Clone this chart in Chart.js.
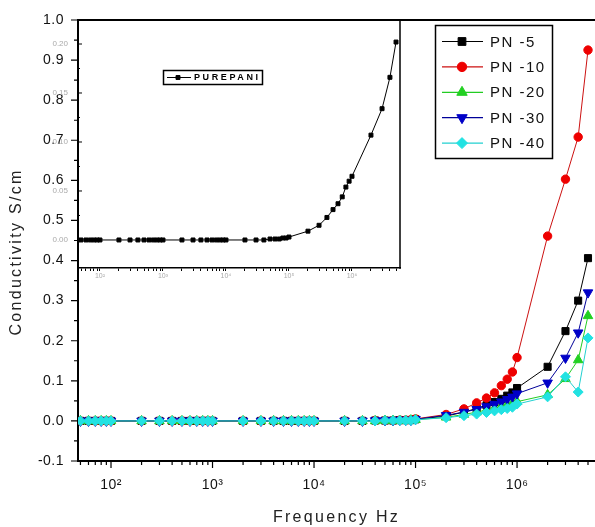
<!DOCTYPE html>
<html><head><meta charset="utf-8">
<script src="https://cdn.jsdelivr.net/npm/chart.js@4.4.1/dist/chart.umd.min.js"></script>
<style>
html,body{margin:0;padding:0;background:#fff;}
#wrap{position:relative;width:595px;height:527px;overflow:hidden;background:#fff;}
#main{position:absolute;left:0;top:0;}
#inset{position:absolute;left:0;top:0;}
</style></head><body>
<div id="wrap"><canvas id="main" width="595" height="527"></canvas><canvas id="inset" width="420" height="290"></canvas></div>
<script>
// ---------- data ----------
const frequencyHz = [50,60,70,80,90,100,
  200,300,400,500,600,700,800,900,1000,
  2000,3000,4000,5000,6000,7000,8000,9000,10000,
  20000,30000,40000,50000,60000,70000,80000,90000,100000,
  200000,300000,400000,500000,600000,700000,800000,900000,1000000,
  2000000,3000000,4000000,5000000];
const pn5 = [0,0,0,0,0,0, 0,0,0,0,0,0,0,0,0, 0,0,0,0,0,0,0,0,0,
  0,0,0.001,0.001,0.001,0.002,0.002,0.002,0.004,
  0.012,0.022,0.031,0.039,0.047,0.055,0.063,0.071,0.082,
  0.135,0.224,0.300,0.406];
const pn10 = [0,0,0,0,0,0, 0,0,0,0,0,0,0,0,0, 0,0,0,0,0,0,0,0,0,
  0,0,0.001,0.001,0.001,0.002,0.002,0.003,0.005,
  0.016,0.030,0.045,0.057,0.070,0.088,0.104,0.122,0.158,
  0.461,0.603,0.708,0.925];
const pn20 = [0,0,0,0,0,0, 0,0,0,0,0,0,0,0,0, 0,0,0,0,0,0,0,0,0,
  0,0,0,0.001,0.001,0.001,0.001,0.002,0.003,
  0.009,0.016,0.022,0.027,0.032,0.036,0.040,0.044,0.048,
  0.065,0.105,0.152,0.262];
const pn30 = [0,0,0,0,0,0, 0,0,0,0,0,0,0,0,0, 0,0,0,0,0,0,0,0,0,
  0,0,0.001,0.001,0.001,0.002,0.002,0.002,0.004,
  0.014,0.022,0.029,0.036,0.042,0.048,0.054,0.060,0.068,
  0.095,0.157,0.220,0.320];
const pn40 = [0,0,0,0,0,0, 0,0,0,0,0,0,0,0,0, 0,0,0,0,0,0,0,0,0,
  0,0,0,0.001,0.001,0.001,0.001,0.001,0.003,
  0.008,0.013,0.017,0.021,0.025,0.028,0.031,0.034,0.042,
  0.060,0.110,0.072,0.207];
const purePani = [0,0,0,0,0,0, 0,0,0,0,0,0,0,0,0, 0,0,0,0,0,0,0,0,0,
  0,0,0,0.001,0.001,0.001,0.002,0.002,0.003,
  0.009,0.015,0.023,0.031,0.037,0.044,0.054,0.060,0.065,
  0.107,0.134,0.166,0.202];
const seriesNames = ['PN -5','PN -10','PN -20','PN -30','PN -40'];
const insetName = 'PUREPANI';
const xMajorTicks = [100,1000,10000,100000,1000000];
const xTickLabels = ['10\u00B2','10\u00B3','10\u2074','10\u2075','10\u2076'];
const xTitle = 'Frequency Hz';
const yTitle = 'Conductivity S/cm';

// ---------- styles ----------
const FONT = '"Liberation Sans", Arial, sans-serif';
const seriesStyles = [
  {color:'#000000', line:'#000000', pointStyle:'rect', radius:5, rotation:0},
  {color:'#ee0000', line:'#cc1111', pointStyle:'circle', radius:4.2, rotation:0},
  {color:'#22d022', line:'#22cc22', pointStyle:'triangle', radius:5.5, rotation:0},
  {color:'#0000c8', line:'#000099', pointStyle:'triangle', radius:5.5, rotation:180},
  {color:'#22e2e2', line:'#22d0d0', pointStyle:'rectRot', radius:5, rotation:0}
];
const allSeries = [pn5, pn10, pn20, pn30, pn40];

function isPow10(v){const e=Math.log10(v);return Math.abs(e-Math.round(e))<1e-9;}
function logTickValues(min,max){const out=[];for(let e=1;e<=6;e++){for(let m=1;m<=9;m++){const v=m*Math.pow(10,e);if(v>=min&&v<=max)out.push(v);}}return out;}
function xLabel(v){const i=xMajorTicks.findIndex(t=>Math.abs(t-v)<1e-6*t);return i>=0?xTickLabels[i]:'';}
function toPoints(vals){return frequencyHz.map((f,i)=>({x:f,y:vals[i]}));}

// ---------- main chart ----------
const mainPlugin = {
  id:'mainDeco',
  beforeDraw(chart){ chart.ctx.letterSpacing='0.5px'; },
  afterDraw(chart){
    const ctx=chart.ctx, a=chart.chartArea, xs=chart.scales.x, ys=chart.scales.y;
    ctx.save();
    ctx.letterSpacing='0px';
    ctx.strokeStyle='#000';
    ctx.lineWidth=2;
    ctx.beginPath();ctx.moveTo(a.left-1,a.top);ctx.lineTo(chart.width,a.top);ctx.stroke();
    ctx.lineWidth=1.2;
    ctx.beginPath();
    xs.ticks.forEach(t=>{const p=xs.getPixelForValue(t.value);if(p<a.left+1)return;const L=isPow10(t.value)?7:4;ctx.moveTo(p,a.bottom);ctx.lineTo(p,a.bottom+L);});
    ys.ticks.forEach(t=>{const p=ys.getPixelForValue(t.value);const r=Math.round(t.value*20);const L=(r%2===0)?7:4;ctx.moveTo(a.left-L,p);ctx.lineTo(a.left,p);});
    ctx.stroke();
    ctx.fillStyle='#222';
    ctx.font='16px '+FONT;
    ctx.letterSpacing='2.3px';
    ctx.textAlign='center';ctx.textBaseline='middle';
    ctx.fillText(xTitle,(a.left+a.right)/2,518);
    ctx.translate(17,252);ctx.rotate(-Math.PI/2);
    ctx.fillText(yTitle,0,0);
    ctx.restore();
    ctx.save();
    ctx.lineWidth=1.5;ctx.strokeStyle='#000';
    ctx.strokeRect(435.5,25.5,117,133);
    chart.data.datasets.forEach((ds,i)=>{
      const st=seriesStyles[i];
      const y=41.5+i*25.4;
      ctx.strokeStyle=st.line;ctx.lineWidth=1.2;
      ctx.beginPath();ctx.moveTo(442,y);ctx.lineTo(483,y);ctx.stroke();
      ctx.fillStyle=st.color;ctx.strokeStyle=st.color;ctx.lineWidth=1;
      Chart.helpers.drawPoint(ctx,{pointStyle:st.pointStyle,rotation:st.rotation,radius:st.radius+0.5,borderWidth:1},462,y);
      ctx.fillStyle='#111';ctx.font='15px '+FONT;ctx.letterSpacing='1.5px';
      ctx.textAlign='left';ctx.textBaseline='middle';
      ctx.fillText(ds.label,490,y+1);
    });
    ctx.restore();
  }
};

new Chart(document.getElementById('main'),{
  type:'line',
  data:{datasets:allSeries.map((vals,i)=>({
    label:seriesNames[i], data:toPoints(vals),
    borderColor:seriesStyles[i].line, borderWidth:1,
    backgroundColor:seriesStyles[i].color,
    pointStyle:seriesStyles[i].pointStyle, pointRotation:seriesStyles[i].rotation,
    pointRadius:seriesStyles[i].radius, pointBackgroundColor:seriesStyles[i].color,
    pointBorderColor:seriesStyles[i].color, pointBorderWidth:1,
    tension:0, order:4-i, fill:false
  }))},
  options:{
    responsive:false, animation:false, events:[],
    layout:{autoPadding:false, padding:{left:0,right:0,top:20,bottom:0}},
    plugins:{legend:{display:false},tooltip:{enabled:false},title:{display:false}},
    scales:{
      x:{type:'logarithmic', min:47.3, max:5.86e6,
        afterFit:s=>{s.height=66;s.paddingLeft=0;s.paddingRight=0;},
        afterBuildTicks:s=>{s.ticks=logTickValues(s.min,s.max).map(v=>({value:v}));},
        ticks:{autoSkip:false,maxRotation:0,minRotation:0,padding:9,color:'#111',font:{family:FONT,size:14},callback:v=>xLabel(v)},
        grid:{drawOnChartArea:false,drawTicks:true,tickLength:7,tickColor:'rgba(0,0,0,0)'},
        border:{display:true,color:'#000',width:2},
        title:{display:false}},
      y:{min:-0.1, max:1.0,
        afterFit:s=>{s.width=78;s.paddingTop=0;s.paddingBottom=0;},
        afterBuildTicks:s=>{const t=[];for(let i=-2;i<=20;i++)t.push({value:i/20});s.ticks=t;},
        ticks:{autoSkip:false,padding:7,color:'#111',font:{family:FONT,size:14},
          callback:v=>{const r=Math.round(v*20);return r%2===0?(r/20).toFixed(1):'';}},
        grid:{drawOnChartArea:false,drawTicks:true,tickLength:7,tickColor:'rgba(0,0,0,0)'},
        border:{display:true,color:'#000',width:2},
        title:{display:false}}
    }
  },
  plugins:[mainPlugin]
});

// ---------- inset chart ----------
const insetPlugin = {
  id:'insetDeco',
  afterDraw(chart){
    const ctx=chart.ctx, a=chart.chartArea, ys=chart.scales.y;
    ctx.save();
    ctx.strokeStyle='#000';ctx.lineWidth=1.5;
    ctx.beginPath();ctx.moveTo(a.right,a.top);ctx.lineTo(a.right,a.bottom+0.75);ctx.stroke();
    ctx.lineWidth=1;
    ctx.beginPath();
    ys.ticks.forEach(t=>{const p=ys.getPixelForValue(t.value);const r=Math.round(t.value*40);const L=(r%2===0)?4:2;ctx.moveTo(a.left,p);ctx.lineTo(a.left+L,p);});
    ctx.stroke();
    ctx.lineWidth=1.5;ctx.strokeRect(163.5,70.5,99,14);
    ctx.lineWidth=1;ctx.beginPath();ctx.moveTo(167,77.5);ctx.lineTo(191,77.5);ctx.stroke();
    ctx.fillStyle='#000';
    Chart.helpers.drawPoint(ctx,{pointStyle:'rect',rotation:0,radius:2.8,borderWidth:1},178,77.5);
    ctx.font='bold 9px '+FONT;ctx.letterSpacing='2.6px';
    ctx.textAlign='left';ctx.textBaseline='middle';
    ctx.fillText(insetName,194,78);
    ctx.restore();
  }
};

new Chart(document.getElementById('inset'),{
  type:'line',
  data:{datasets:[{label:insetName,data:toPoints(purePani),
    borderColor:'#000',borderWidth:1,backgroundColor:'#000',
    pointStyle:'rect',pointRadius:2.8,pointBackgroundColor:'#000',pointBorderColor:'#000',pointBorderWidth:1,
    tension:0,fill:false}]},
  options:{
    responsive:false, animation:false, events:[],
    layout:{autoPadding:false, padding:{left:0,right:20,top:20,bottom:0}},
    plugins:{legend:{display:false},tooltip:{enabled:false}},
    scales:{
      x:{type:'logarithmic',min:44.8,max:5.78e6,
        afterFit:s=>{s.height=22;s.paddingLeft=0;s.paddingRight=0;},
        afterBuildTicks:s=>{s.ticks=logTickValues(s.min,s.max).map(v=>({value:v}));},
        ticks:{autoSkip:false,maxRotation:0,minRotation:0,padding:1,color:'#aaaaaa',font:{family:FONT,size:7},callback:v=>xLabel(v)},
        grid:{drawOnChartArea:false,drawTicks:true,tickLength:3,tickColor:'#000',tickWidth:1},
        border:{display:true,color:'#000',width:1.5}},
      y:{min:-0.0286,max:0.2245,
        afterFit:s=>{s.width=78;s.paddingTop=0;s.paddingBottom=0;},
        afterBuildTicks:s=>{const t=[];for(let i=0;i<=8;i++)t.push({value:i/40});s.ticks=t;},
        ticks:{autoSkip:false,padding:7,color:'#aaaaaa',font:{family:FONT,size:8},
          callback:v=>{const r=Math.round(v*40);return r%2===0?(r/40).toFixed(2):'';}},
        grid:{drawOnChartArea:false,drawTicks:true,tickLength:3,tickColor:'rgba(0,0,0,0)'},
        border:{display:false}}
    }
  },
  plugins:[insetPlugin]
});
</script></body></html>
